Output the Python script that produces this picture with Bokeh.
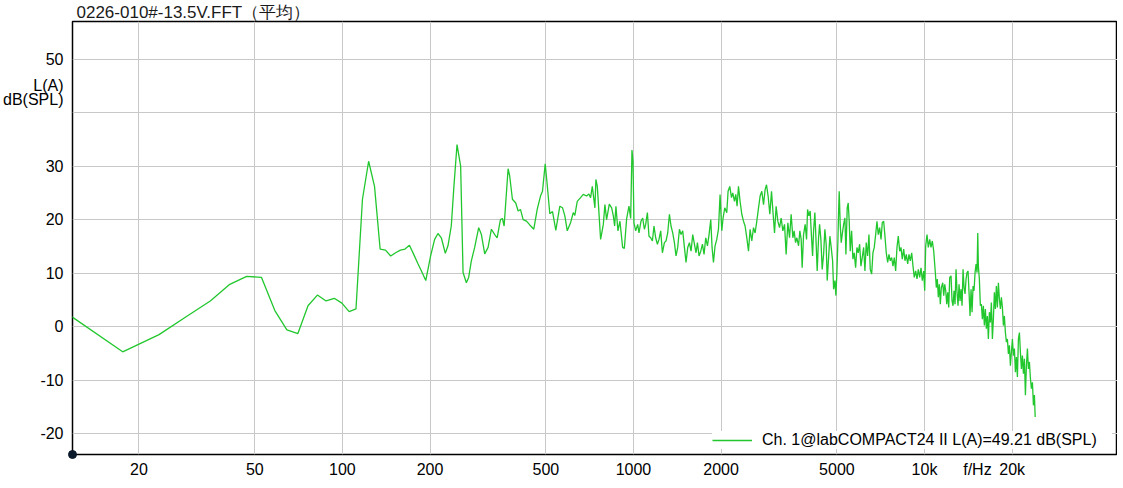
from bokeh.plotting import figure
from bokeh.models import FixedTicker, Legend, LegendItem
from bokeh.embed import file_html
from bokeh.resources import INLINE

# ---------------- texts ----------------
title_text = "0226-010#-13.5V.FFT（平均）"
legend_text = "Ch. 1@labCOMPACT24 II L(A)=49.21 dB(SPL)"
y_unit_text = "L(A)\ndB(SPL)"
x_unit_text = "f/Hz"

# ---------------- ticks ----------------
x_ticks = [20, 50, 100, 200, 500, 1000, 2000, 5000, 10000, 20000]
x_tick_labels = ["20", "50", "100", "200", "500", "1000", "2000", "5000", "10k", "20k"]
x_unit_at = 15200
y_ticks = [-20, -10, 0, 10, 20, 30, 40, 50]
y_tick_labels = ["-20", "-10", "0", "10", "20", "30", "", "50"]
y_unit_at = 43.8

x_start, x_end = 11.82, 46030
y_start, y_end = -23.89, 57.01

# ---------------- data (Hz, dB SPL A-weighted) ----------------
freq_low = [11.72, 17.58, 23.44, 29.30, 35.16, 41.02, 46.88, 52.73, 58.59, 64.45,
            70.31, 76.17, 82.03, 87.89, 93.75, 99.61, 105.47, 111.33, 117.19, 123.05,
            128.91, 134.77, 140.63, 146.48, 152.34, 158.20, 164.06, 169.92, 175.78, 181.64,
            187.50, 193.36]
level_low = [1.9, -4.7, -1.5, 2.0, 4.8, 7.9, 9.4, 9.2, 3.0, -0.6,
             -1.3, 3.9, 5.9, 4.8, 5.3, 4.4, 2.8, 3.3, 23.8, 30.9,
             26.2, 14.5, 14.3, 13.2, 13.8, 14.3, 14.5, 15.2, 13.5, 11.8,
             10.2, 8.6]

freq_mid = [200.9, 207.4, 213.0, 218.7, 225.7, 230.5, 236.6, 241.6, 247.6, 254.8,
            259.7, 266.6, 271.5, 277.3, 284.7, 293.9, 300.3, 308.3, 316.6, 325.0,
            333.7, 340.1, 349.1, 354.6, 359.4, 370.9, 375.7, 383.8, 394.0, 401.6,
            409.0, 417.8, 428.9, 440.3, 454.5, 466.9, 479.3, 486.9, 497.4, 505.4,
            515.9, 527.1, 541.0, 558.5, 570.6, 581.1, 592.3, 607.9, 621.0, 628.9,
            641.0, 658.0, 672.2, 690.1, 702.8, 712.4, 722.0, 737.1, 742.9, 751.2,
            771.1, 787.8, 797.8, 808.6, 826.0, 841.4, 852.7, 861.6, 870.5, 884.3,
            898.5, 917.9, 930.4, 947.5, 965.0, 978.1, 988.2, 996.1, 1004.0]
level_mid = [13.2, 16.3, 17.4, 16.6, 13.7, 15.1, 18.8, 26.2, 34.0, 30.0,
             10.1, 8.2, 9.2, 12.3, 14.8, 18.5, 17.2, 13.6, 14.8, 18.2,
             17.2, 16.6, 20.0, 20.2, 18.8, 29.5, 28.1, 23.8, 23.1, 21.6,
             21.9, 20.0, 19.7, 19.0, 18.2, 21.9, 24.4, 25.3, 30.4, 26.5,
             21.1, 21.5, 18.0, 22.5, 22.2, 20.7, 17.9, 19.4, 21.3, 20.8,
             23.4, 24.1, 24.7, 24.4, 24.8, 24.1, 26.2, 22.2, 27.5, 26.2,
             16.3, 19.1, 22.8, 20.0, 22.9, 22.2, 20.7, 18.8, 22.5, 17.9,
             19.7, 14.8, 14.6, 20.2, 22.5, 20.2, 33.0, 30.9, 19.4]

freq_upper = [1017.6, 1033.8, 1044.6, 1061.3, 1075.6, 1090.2, 1101.4, 1116.4, 1130.6, 1146.0,
              1161.5, 1176.3, 1192.2, 1208.4, 1223.8, 1240.4, 1257.2, 1277.3, 1293.6, 1311.1,
              1328.9, 1345.9, 1364.1, 1382.5, 1400.2, 1419.1, 1438.4, 1456.8, 1476.5, 1496.5,
              1515.6, 1536.1, 1557.0, 1576.9, 1598.3, 1619.8, 1640.5, 1658.8, 1680.0, 1702.8,
              1725.9, 1747.8, 1771.5, 1795.5, 1818.5, 1843.2, 1862.2, 1883.0, 1906.9, 1932.9,
              1959.0, 1984.0, 2011.0, 2031.7, 2059.2, 2092.2, 2113.8, 2142.4, 2171.5, 2194.0,
              2223.6, 2246.7, 2269.9, 2295.2, 2324.5, 2356.1, 2388.0, 2418.4, 2451.3, 2484.5,
              2516.2, 2550.3, 2584.9, 2617.7, 2653.4, 2689.2, 2723.6, 2760.5, 2798.0, 2833.5,
              2865.1, 2901.7, 2941.0, 2980.9, 3019.0, 3052.5, 3091.5, 3133.3, 3175.9, 3216.5,
              3260.1, 3304.1, 3346.3, 3391.5, 3437.7, 3481.5]
level_upper = [17.9, 19.1, 17.5, 19.7, 20.3, 18.2, 19.1, 21.3, 16.9, 16.6,
               16.0, 18.8, 16.6, 15.4, 16.3, 17.9, 13.8, 15.7, 16.0, 17.5,
               21.0, 18.8, 17.5, 15.7, 13.2, 14.8, 18.2, 17.2, 17.9, 14.8,
               12.0, 14.8, 15.7, 14.1, 17.2, 15.4, 13.8, 15.7, 13.2, 14.1,
               15.4, 13.5, 16.6, 15.1, 17.2, 20.0, 14.8, 12.0, 15.1, 16.3,
               18.2, 24.7, 17.9, 20.3, 22.2, 21.3, 25.3, 26.2, 24.1, 25.0,
               23.4, 24.7, 22.5, 26.2, 23.4, 21.0, 19.7, 18.8, 16.6, 14.1,
               18.2, 16.0, 18.5, 17.5, 19.7, 22.2, 24.4, 25.3, 22.8, 25.6,
               26.5, 24.4, 21.0, 25.3, 21.0, 17.5, 22.5, 19.7, 18.5, 20.3,
               17.9, 19.1, 13.5, 19.4, 16.6, 21.0]

freq_high = [3528.7, 3565.1, 3604.9, 3642.4, 3691.6, 3729.9, 3768.5, 3798.5, 3840.7, 3889.7,
             3933.1, 3964.4, 4005.4, 4046.9, 4079.2, 4124.7, 4157.5, 4200.3, 4243.8, 4277.5,
             4325.2, 4359.7, 4404.9, 4450.5, 4500.1, 4546.5, 4593.6, 4630.2, 4681.8, 4730.3,
             4779.3, 4832.6, 4871.1, 4921.3, 4960.5, 5000.1, 5039.4, 5067.7, 5091.9, 5132.5,
             5173.4, 5214.5, 5272.6, 5326.9, 5369.4, 5424.9, 5468.0, 5511.6, 5555.5, 5617.5,
             5675.6, 5734.1, 5798.0, 5858.3, 5918.8, 5984.9, 6046.9, 6109.4, 6177.6, 6241.3,
             6306.0, 6376.3, 6442.3, 6509.1, 6581.7, 6649.8, 6718.3, 6793.3, 6864.0, 6934.8,
             7012.2, 7088.6, 7158.2, 7238.0, 7312.6, 7388.4, 7470.8, 7548.2, 7626.4, 7710.2,
             7791.3, 7871.5, 7959.3, 8042.1, 8125.1, 8215.8, 8301.1, 8386.8, 8480.4, 8567.8,
             8656.5, 8753.2, 8843.8, 8935.5, 9035.0, 9128.7, 9222.7, 9325.5, 9422.6, 9519.8,
             9626.1, 9725.7, 9826.5, 9936.0, 10014.6, 10094, 10199, 10304, 10419, 10527,
             10636, 10755]
level_high = [16.6, 17.9, 15.7, 16.6, 15.1, 17.9, 16.3, 11.0, 17.2, 19.1,
              16.3, 21.9, 20.7, 21.6, 17.9, 13.2, 17.9, 21.3, 15.4, 10.4,
              16.6, 19.1, 16.3, 10.7, 13.5, 18.2, 15.4, 8.6, 12.9, 16.9,
              14.8, 12.3, 7.0, 8.6, 5.8, 10.1, 16.0, 21.6, 25.3, 19.1,
              15.7, 17.2, 19.1, 20.3, 13.5, 22.2, 23.1, 19.7, 14.1, 17.9,
              12.6, 13.8, 11.0, 14.8, 13.8, 15.4, 11.3, 12.9, 14.8, 10.4,
              15.7, 13.2, 17.2, 10.7, 9.8, 13.8, 14.8, 17.2, 19.7, 17.2,
              18.5, 16.3, 19.4, 19.7, 16.9, 13.8, 12.0, 13.5, 12.3, 12.9,
              11.3, 12.9, 10.4, 14.8, 16.9, 14.1, 14.8, 12.6, 14.5, 12.3,
              13.5, 11.7, 13.5, 12.3, 13.8, 11.3, 9.2, 10.4, 8.9, 10.7,
              9.2, 11.0, 8.6, 10.4, 6.7, 15.1, 17.2, 14.8, 16.3, 14.8,
              16.0, 14.1]

freq_top = [10892, 10979, 11066, 11154, 11243, 11332, 11422, 11550, 11641, 11733,
            11827, 11921, 12016, 12111, 12208, 12334, 12432, 12531, 12630, 12731,
            12832, 12934, 13036, 13141, 13245, 13351, 13457, 13564, 13671, 13779,
            13889, 14000, 14110, 14223, 14336, 14450, 14566, 14681, 14797, 14915,
            15034, 15154, 15238, 15310, 15432, 15555, 15679, 15804, 15929, 16055,
            16183, 16312, 16442, 16573, 16705, 16838, 16972, 17107, 17243, 17379,
            17517, 17657, 17797, 17939, 18082, 18226, 18370, 18517, 18664, 18811,
            18961, 19112, 19264, 19417, 19572, 19728, 19885, 20043, 20202, 20362,
            20524, 20687, 20852, 21018, 21185, 21353, 21523, 21694, 21867, 22040,
            22215, 22392, 22570, 22749, 22930, 23113, 23296, 23482, 23669, 23857,
            24000]
level_top = [10.1, 7.3, 8.9, 5.5, 7.9, 4.2, 7.3, 8.2, 5.8, 7.9,
             6.7, 4.2, 6.4, 3.6, 9.2, 9.5, 4.8, 3.9, 6.7, 4.2,
             10.7, 6.4, 3.9, 7.9, 4.8, 7.0, 3.9, 10.7, 7.3, 6.1,
             8.9, 10.1, 10.4, 6.4, 2.0, 7.0, 2.7, 7.6, 6.7, 10.1,
             11.7, 10.1, 17.5, 11.3, 8.9, 3.9, 4.2, 1.4, 3.9, 0.2,
             3.3, -0.4, 2.0, -2.3, 2.7, 0.8, 4.5, -2.3, 1.4, 6.4,
             3.3, 7.6, 3.6, 8.2, 5.2, 3.3, 5.5, 3.6, 0.2, 2.0,
             -1.1, -2.9, -2.3, -5.1, -3.5, -7.3, -4.8, -2.3, -5.4, -4.1,
             -8.5, -5.7, -9.4, -2.3, -1.1, -4.8, -7.9, -5.4, -8.8, -6.0,
             -12.8, -7.3, -4.1, -7.9, -6.6, -9.7, -11.6, -10.4, -14.7, -12.8,
             -16.9]

freq = freq_low + freq_mid + freq_upper + freq_high + freq_top
level = level_low + level_mid + level_upper + level_high + level_top

FONT = "Liberation Sans"
GREEN = "#22c72e"

p = figure(width=1117, height=480, x_axis_type="log",
           x_range=(x_start, x_end), y_range=(y_start, y_end),
           output_backend="svg", toolbar_location=None,
           min_border_left=66, min_border_right=0, min_border_top=12, min_border_bottom=25,
           background_fill_color="white", border_fill_color="white")

p.title.text = title_text
p.title.text_font = FONT
p.title.text_font_size = "17px"
p.title.text_font_style = "normal"
p.title.text_color = "#1a1a1a"
p.title.align = "left"
p.title.offset = 4
p.title.standoff = 0

p.outline_line_color = "black"
p.outline_line_width = 1.5

# axes
p.xaxis.ticker = FixedTicker(ticks=x_ticks + [x_unit_at])
xo = {t: s for t, s in zip(x_ticks, x_tick_labels)}
xo[x_unit_at] = x_unit_text
p.xaxis.major_label_overrides = xo
p.yaxis.ticker = FixedTicker(ticks=y_ticks + [y_unit_at])
yo = {t: s for t, s in zip(y_ticks, y_tick_labels)}
yo[y_unit_at] = y_unit_text
p.yaxis.major_label_overrides = yo

for ax in (p.xaxis, p.yaxis):
    ax.axis_line_color = None
    ax.major_tick_line_color = None
    ax.minor_tick_line_color = None
    ax.major_tick_out = 0
    ax.major_tick_in = 0
    ax.minor_tick_out = 0
    ax.minor_tick_in = 0
    ax.major_label_text_font = FONT
    ax.major_label_text_font_size = "16px"
    ax.major_label_text_color = "black"
    ax.major_label_text_line_height = 0.8
p.xaxis.major_label_standoff = 6
p.yaxis.major_label_standoff = 9

p.xgrid.ticker = FixedTicker(ticks=x_ticks)
p.ygrid.ticker = FixedTicker(ticks=y_ticks)
for g in (p.xgrid, p.ygrid):
    g.grid_line_color = "#c8c8c8"
    g.grid_line_width = 1

r = p.line(freq, level, line_color=GREEN, line_width=1.3)

legend = Legend(items=[LegendItem(label=legend_text, renderers=[r])],
                location="bottom_right", margin=5, padding=3, spacing=0,
                glyph_width=40, glyph_height=18, label_standoff=10,
                label_width=350, label_text_font=FONT, label_text_font_size="16px",
                label_text_color="black", border_line_color=None,
                background_fill_color="white", background_fill_alpha=1.0)
p.add_layout(legend)

p.scatter(x=[x_start], y=[y_start], size=8, marker="circle",
          fill_color="#0b1a2b", line_color="#0b1a2b", level="overlay")

open("out.html", "w").write(file_html(p, INLINE))
